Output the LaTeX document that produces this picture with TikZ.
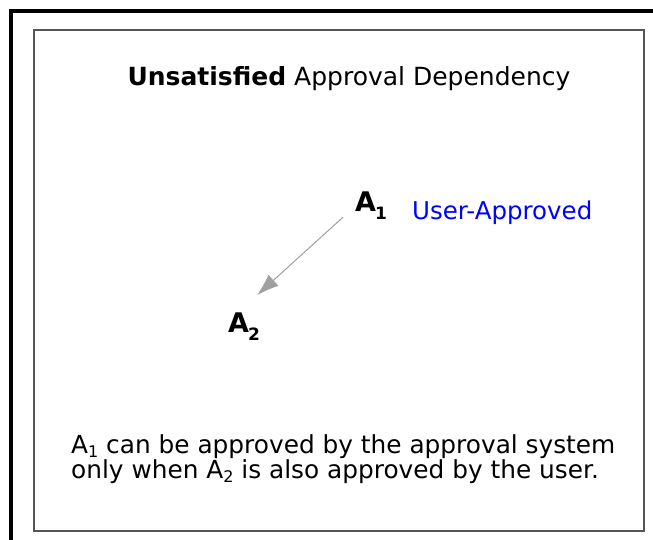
\documentclass[tikz,border=0pt]{standalone}
\usepackage{fontspec}
\setmainfont{DejaVu Sans}
\usetikzlibrary{arrows.meta}
\definecolor{userblue}{RGB}{0,0,255}
\definecolor{framegray}{RGB}{85,85,85}
\definecolor{arrowgray}{RGB}{160,160,160}
\newcommand{\actsub}[1]{\kern-1pt\raisebox{-8pt}{\fontsize{17}{17}\selectfont #1}}
\newcommand{\notesub}[1]{\raisebox{-4pt}{\fontsize{16}{16}\selectfont #1}}
\begin{document}
\begin{tikzpicture}[x=1pt, y=1pt,
        caption/.style={font=\fontsize{25}{30}\selectfont, inner sep=0pt},
        act/.style={font=\fontsize{27}{30}\selectfont\bfseries, inner sep=0pt},
        state/.style={font=\fontsize{24.5}{28}\selectfont, text=userblue, inner sep=0pt},
        note/.style={font=\fontsize{24.8}{25.5}\selectfont, align=left, inner sep=0pt},
        dep/.style={draw=arrowgray, line width=1pt, -{Latex[length=22pt, width=15pt, fill=arrowgray]}}
    ]
    \useasboundingbox (0,0) rectangle (653,540);
    \fill[white] (0,0) rectangle (653,540);
    % frames
    \draw[line width=4pt] (11,0) -- (11,529) -- (653,529);
    \draw[framegray, line width=1.8pt] (34,9) rectangle (644,510);

    \node[caption, anchor=base] (title) at (349,454) {\textbf{Unsatisfied} Approval Dependency};

    \node[act, anchor=base west] (a1) at (355,328) {A\actsub{1}};
    \node[act, anchor=base west] (a2) at (228,207) {A\actsub{2}};
    \node[state, anchor=base west] (status) at (412,320) {User-Approved};

    \draw[dep] ([xshift=-12pt, yshift=3pt]a1.south west) -- ([xshift=-3pt, yshift=18pt]a2.north east);

    \node[note, anchor=north west] (note) at (71,106) {A\notesub{1} can be approved by the approval system\\only when A\notesub{2} is also approved by the user.};
\end{tikzpicture}
\end{document}
